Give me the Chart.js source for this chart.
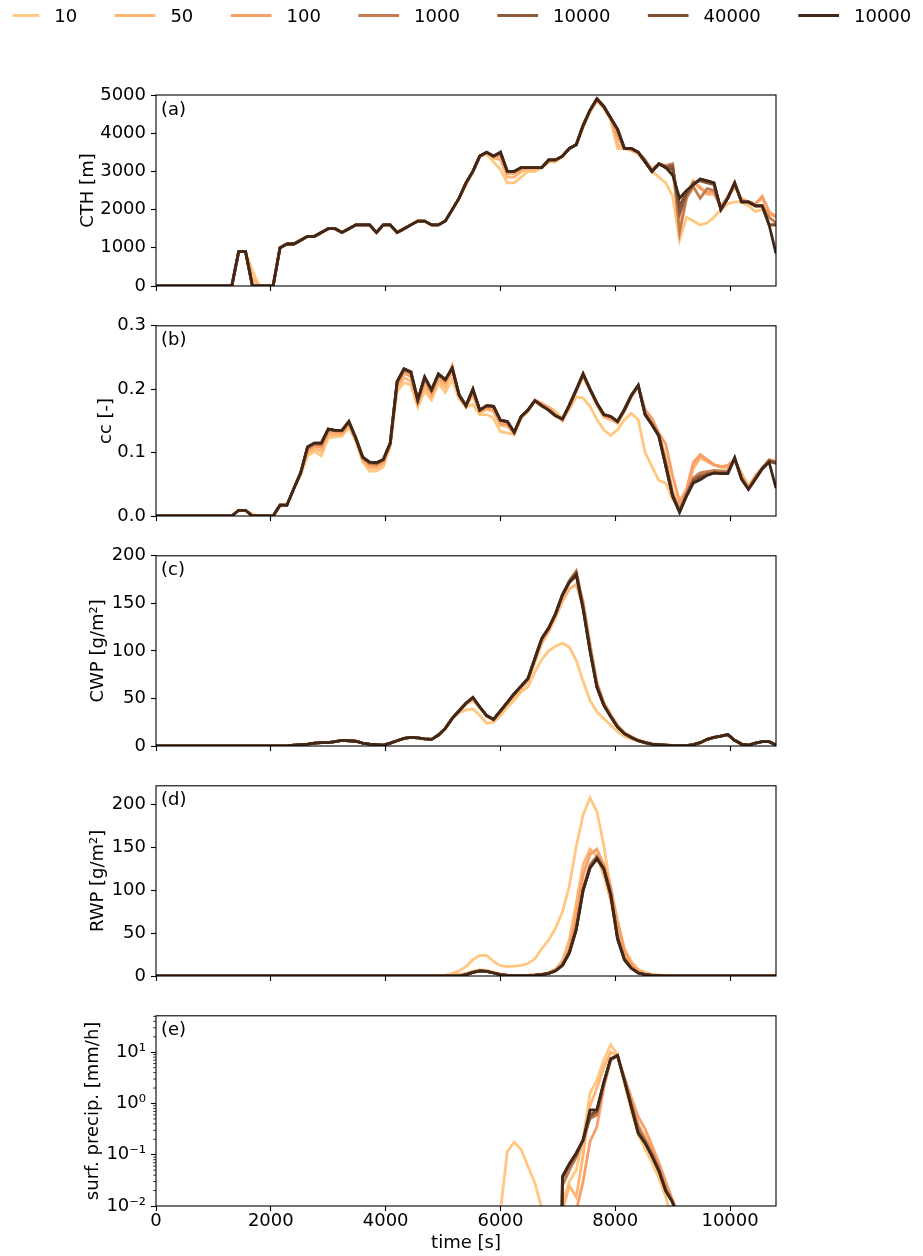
<!DOCTYPE html>
<html>
<head>
<meta charset="utf-8">
<script src="https://cdn.jsdelivr.net/npm/chart.js@4.4.1/dist/chart.umd.min.js"></script>
<style>
  html, body { margin: 0; padding: 0; background: #fff; }
  #fig { position: relative; width: 923px; height: 1256px; overflow: hidden; background: #fff; }
  #fig canvas { position: absolute; left: 0; }
</style>
</head>
<body>
<div id="fig"></div>
<script>
// ---------------- data ----------------
// model output time [s], every 2 minutes
const time = [
  0,120,240,360,480,600,720,840,960,1080,
  1200,1320,1440,1560,1680,1800,1920,2040,2160,2280,
  2400,2520,2640,2760,2880,3000,3120,3240,3360,3480,
  3600,3720,3840,3960,4080,4200,4320,4440,4560,4680,
  4800,4920,5040,5160,5280,5400,5520,5640,5760,5880,
  6000,6120,6240,6360,6480,6600,6720,6840,6960,7080,
  7200,7320,7440,7560,7680,7800,7920,8040,8160,8280,
  8400,8520,8640,8760,8880,9000,9120,9240,9360,9480,
  9600,9720,9840,9960,10080,10200,10320,10440,10560,10680,
  10800];

// run labels (as printed in the legend) and line colours
const runLabels = ['10', '50', '100', '1000', '10000', '40000', '10000'];
const runColors = ['#FFC77F', '#FFB574', '#F99E66', '#C27C50', '#8E5A3A', '#7D4F33', '#3F2819'];

// (a) cloud top height [m]
const cth10 = [
  0,0,0,0,0,0,0,0,0,0,
  0,0,900,900,400,0,0,0,1000,1100,
  1100,1200,1300,1300,1400,1500,1500,1400,1500,1600,
  1600,1600,1400,1600,1600,1400,1500,1600,1700,1700,
  1600,1600,1700,2000,2300,2650,3000,3400,3450,3250,
  3050,2700,2700,2850,3000,3000,3100,3250,3250,3400,
  3600,3700,4150,4550,4850,4650,4350,3600,3600,3550,
  3450,3250,3000,2850,2700,2350,1200,1800,1700,1600,
  1650,1800,2000,2150,2200,2200,2100,1950,2000,1850,
  1850];
const cth50 = [
  0,0,0,0,0,0,0,0,0,0,
  0,0,900,900,200,0,0,0,1000,1100,
  1100,1200,1300,1300,1400,1500,1500,1400,1500,1600,
  1600,1600,1400,1600,1600,1400,1500,1600,1700,1700,
  1600,1600,1700,2000,2300,2650,3000,3400,3500,3350,
  3300,2850,2850,3000,3050,3050,3100,3250,3300,3400,
  3600,3700,4200,4600,4850,4700,4400,3700,3600,3550,
  3500,3250,3050,3200,3100,3000,1700,2300,2700,2600,
  2400,2400,2100,2300,2600,2300,2200,2150,2300,1900,
  1850];
const cth100 = [
  0,0,0,0,0,0,0,0,0,0,
  0,0,900,900,0,0,0,0,1000,1100,
  1100,1200,1300,1300,1400,1500,1500,1400,1500,1600,
  1600,1600,1400,1600,1600,1400,1500,1600,1700,1700,
  1600,1600,1700,2000,2300,2700,3000,3400,3500,3400,
  3400,2950,2950,3050,3100,3100,3100,3300,3300,3400,
  3600,3700,4200,4600,4850,4700,4400,3900,3600,3600,
  3500,3300,3050,3200,3100,3150,1900,2400,2750,2550,
  2450,2450,2050,2350,2650,2250,2200,2150,2350,1950,
  1800];
const cth1000 = [
  0,0,0,0,0,0,0,0,0,0,
  0,0,900,900,0,0,0,0,1000,1100,
  1100,1200,1300,1300,1400,1500,1500,1400,1500,1600,
  1600,1600,1400,1600,1600,1400,1500,1600,1700,1700,
  1600,1600,1700,2000,2300,2700,3000,3400,3500,3400,
  3500,3000,3000,3100,3100,3100,3100,3300,3300,3400,
  3600,3700,4200,4600,4900,4700,4400,4100,3600,3600,
  3500,3300,3000,3200,3150,3200,1400,2300,2600,2300,
  2550,2500,2050,2300,2700,2200,2200,2100,2100,1800,
  1650];
const cth10000 = [
  0,0,0,0,0,0,0,0,0,0,
  0,0,900,900,0,0,0,0,1000,1100,
  1100,1200,1300,1300,1400,1500,1500,1400,1500,1600,
  1600,1600,1400,1600,1600,1400,1500,1600,1700,1700,
  1600,1600,1700,2000,2300,2700,3000,3400,3500,3400,
  3500,3000,3000,3100,3100,3100,3100,3300,3300,3400,
  3600,3700,4200,4600,4900,4700,4400,4100,3600,3600,
  3500,3250,3000,3200,3100,3150,1900,2400,2700,2750,
  2700,2650,2000,2300,2700,2200,2200,2100,2100,1600,
  1600];
const cth40000 = [
  0,0,0,0,0,0,0,0,0,0,
  0,0,900,900,0,0,0,0,1000,1100,
  1100,1200,1300,1300,1400,1500,1500,1400,1500,1600,
  1600,1600,1400,1600,1600,1400,1500,1600,1700,1700,
  1600,1600,1700,2000,2300,2700,3000,3400,3500,3400,
  3500,3000,3000,3100,3100,3100,3100,3300,3300,3400,
  3600,3700,4200,4600,4900,4700,4400,4100,3600,3600,
  3500,3250,3000,3200,3100,3050,2100,2450,2650,2800,
  2750,2700,2000,2300,2700,2200,2200,2100,2100,1600,
  1600];
const cth100000 = [
  0,0,0,0,0,0,0,0,0,0,
  0,0,900,900,0,0,0,0,1000,1100,
  1100,1200,1300,1300,1400,1500,1500,1400,1500,1600,
  1600,1600,1400,1600,1600,1400,1500,1600,1700,1700,
  1600,1600,1700,2000,2300,2700,3000,3400,3500,3400,
  3500,3000,3000,3100,3100,3100,3100,3300,3300,3400,
  3600,3700,4200,4600,4900,4700,4400,4100,3600,3600,
  3500,3250,3000,3200,3100,2900,2300,2500,2650,2800,
  2750,2700,2000,2300,2700,2200,2200,2100,2100,1600,
  850];

// (b) cloud cover [-]
const cc10 = [
  0,0,0,0,0,0,0,0,0,0,
  0,0,0.009,0.009,0.003,0,0,0,0.017,0.017,
  0.043,0.065,0.095,0.102,0.095,0.123,0.125,0.126,0.140,0.118,
  0.086,0.071,0.071,0.078,0.110,0.197,0.210,0.207,0.172,0.197,
  0.183,0.210,0.195,0.215,0.185,0.172,0.176,0.160,0.160,0.154,
  0.133,0.131,0.128,0.154,0.165,0.181,0.172,0.172,0.165,0.154,
  0.168,0.188,0.186,0.173,0.152,0.136,0.127,0.136,0.152,0.162,
  0.152,0.100,0.078,0.056,0.052,0.026,0.013,0.031,0.078,0.095,
  0.089,0.081,0.078,0.078,0.089,0.068,0.047,0.063,0.074,0.089,
  0.086];
const cc50 = [
  0,0,0,0,0,0,0,0,0,0,
  0,0,0.009,0.009,0,0,0,0,0.017,0.017,
  0.043,0.066,0.100,0.106,0.102,0.128,0.128,0.129,0.143,0.120,
  0.088,0.076,0.076,0.082,0.112,0.202,0.218,0.213,0.176,0.205,
  0.188,0.215,0.203,0.228,0.188,0.174,0.190,0.163,0.168,0.165,
  0.143,0.141,0.130,0.155,0.167,0.182,0.176,0.170,0.160,0.152,
  0.172,0.196,0.220,0.198,0.175,0.156,0.152,0.146,0.165,0.188,
  0.204,0.165,0.150,0.130,0.090,0.040,0.012,0.040,0.075,0.092,
  0.086,0.080,0.077,0.075,0.088,0.066,0.046,0.062,0.075,0.088,
  0.085];
const cc100 = [
  0,0,0,0,0,0,0,0,0,0,
  0,0,0.009,0.009,0,0,0,0,0.017,0.017,
  0.043,0.067,0.104,0.110,0.108,0.132,0.132,0.132,0.146,0.122,
  0.090,0.080,0.079,0.085,0.113,0.207,0.225,0.220,0.178,0.212,
  0.193,0.220,0.210,0.237,0.190,0.172,0.195,0.165,0.171,0.168,
  0.146,0.145,0.131,0.156,0.168,0.183,0.178,0.171,0.160,0.150,
  0.172,0.198,0.222,0.199,0.176,0.158,0.154,0.148,0.166,0.189,
  0.205,0.168,0.154,0.131,0.113,0.063,0.023,0.042,0.084,0.097,
  0.089,0.081,0.078,0.080,0.089,0.063,0.044,0.063,0.076,0.089,
  0.086];
const cc1000 = [
  0,0,0,0,0,0,0,0,0,0,
  0,0,0.009,0.009,0,0,0,0,0.017,0.017,
  0.043,0.068,0.107,0.113,0.112,0.136,0.135,0.134,0.148,0.123,
  0.092,0.083,0.082,0.088,0.114,0.210,0.230,0.225,0.182,0.217,
  0.197,0.222,0.214,0.234,0.191,0.174,0.200,0.167,0.174,0.173,
  0.151,0.149,0.132,0.157,0.167,0.182,0.174,0.167,0.158,0.153,
  0.175,0.199,0.224,0.200,0.178,0.160,0.157,0.149,0.168,0.190,
  0.206,0.162,0.146,0.128,0.085,0.035,0.010,0.035,0.060,0.068,
  0.070,0.072,0.071,0.070,0.090,0.060,0.043,0.060,0.076,0.088,
  0.085];
const cc10000 = [
  0,0,0,0,0,0,0,0,0,0,
  0,0,0.009,0.009,0,0,0,0,0.017,0.017,
  0.043,0.068,0.109,0.115,0.115,0.137,0.135,0.135,0.149,0.123,
  0.093,0.085,0.084,0.089,0.115,0.212,0.232,0.227,0.183,0.219,
  0.199,0.224,0.215,0.233,0.191,0.174,0.200,0.167,0.174,0.173,
  0.151,0.149,0.132,0.157,0.167,0.182,0.174,0.167,0.158,0.153,
  0.175,0.199,0.224,0.200,0.178,0.160,0.157,0.149,0.168,0.190,
  0.206,0.160,0.144,0.126,0.080,0.032,0.007,0.033,0.056,0.063,
  0.066,0.068,0.068,0.068,0.091,0.059,0.043,0.059,0.075,0.087,
  0.084];
const cc40000 = [
  0,0,0,0,0,0,0,0,0,0,
  0,0,0.009,0.009,0,0,0,0,0.017,0.017,
  0.043,0.068,0.109,0.115,0.115,0.137,0.135,0.135,0.149,0.123,
  0.093,0.085,0.084,0.089,0.115,0.212,0.232,0.227,0.183,0.219,
  0.199,0.224,0.215,0.233,0.191,0.174,0.200,0.167,0.174,0.173,
  0.151,0.149,0.132,0.157,0.167,0.182,0.174,0.167,0.158,0.153,
  0.175,0.199,0.224,0.200,0.178,0.160,0.157,0.149,0.168,0.190,
  0.206,0.160,0.144,0.126,0.079,0.031,0.006,0.032,0.054,0.060,
  0.065,0.068,0.067,0.067,0.091,0.058,0.042,0.058,0.075,0.086,
  0.083];
const cc100000 = [
  0,0,0,0,0,0,0,0,0,0,
  0,0,0.009,0.009,0,0,0,0,0.017,0.017,
  0.043,0.068,0.109,0.115,0.115,0.137,0.135,0.135,0.149,0.123,
  0.093,0.085,0.084,0.089,0.115,0.212,0.232,0.227,0.183,0.219,
  0.199,0.224,0.215,0.233,0.191,0.174,0.200,0.167,0.174,0.173,
  0.151,0.149,0.132,0.157,0.167,0.182,0.174,0.167,0.158,0.153,
  0.175,0.199,0.224,0.200,0.178,0.160,0.157,0.149,0.168,0.190,
  0.206,0.160,0.144,0.126,0.078,0.031,0.006,0.031,0.052,0.057,
  0.064,0.068,0.067,0.067,0.092,0.058,0.042,0.058,0.074,0.085,
  0.044];

// (c) cloud water path [g/m2]
const cwp10 = [
  0,0,0,0,0,0,0,0,0,0,
  0,0,0,0,0,0,0,0,0,0.2,
  1,1.5,2,3,3.5,3.5,4.5,6,5.5,5,
  3,2,1.5,1,3,5.5,8,9,8.5,7.5,
  7,11.5,18.5,29,35,38,39,32,24,25,
  32,41,48,57,62,78,91,100,105,108,
  104,90,68,48,36,29,22,15,10,7.5,
  5,3,1.5,1,0.7,0.4,0.3,0.5,1.5,3.5,
  7,9,10.5,12,6,2,1,3,4.5,4.5,
  1];
const cwp50 = [
  0,0,0,0,0,0,0,0,0,0,
  0,0,0,0,0,0,0,0,0,0.2,
  1,1.5,2,3,3.5,3.5,4.5,6,5.5,5,
  3,2,1.5,1,3,5.5,8,9,8.5,7.5,
  7,11.5,18.5,29,36,44,48,40,31,27,
  35,44,52,60,68,88,108,120,135,152,
  165,170,145,102,64,45,32,21,14,9.5,
  6,3.8,2.2,1.6,1,0.5,0.3,0.5,1.5,3.5,
  7,9,10.5,12,6,2,1,3,4.5,4.5,
  1];
const cwp100 = [
  0,0,0,0,0,0,0,0,0,0,
  0,0,0,0,0,0,0,0,0,0.2,
  1,1.5,2,3,3.5,3.5,4.5,6,5.5,5,
  3,2,1.5,1,3,5.5,8,9,8.5,7.5,
  7,11.5,18.5,29,37,45,50,41,32,28,
  36,45,54,62,70,90,111,123,138,157,
  172,178,152,108,67,46,33,22,14,10,
  6,4,2.3,1.7,1.1,0.6,0.3,0.5,1.5,3.5,
  7,9,10.5,12,6,2,1,3,4.5,4.5,
  1];
const cwp1000 = [
  0,0,0,0,0,0,0,0,0,0,
  0,0,0,0,0,0,0,0,0,0.2,
  1,1.5,2,3,3.5,3.5,4.5,6,5.5,5,
  3,2,1.5,1,3,5.5,8,9,8.5,7.5,
  7,11.5,18.5,29,37,45,51,41,32,28,
  37,46,55,63,71,92,113,124,139,159,
  174,184,148,103,64,44,31,20,13,9,
  5.6,3.5,2,1.5,1,0.5,0.3,0.5,1.5,3.5,
  7,9,10.5,12,6,2,1,3,4.5,4.5,
  1];
const cwp10000 = [
  0,0,0,0,0,0,0,0,0,0,
  0,0,0,0,0,0,0,0,0,0.2,
  1,1.5,2,3,3.5,3.5,4.5,6,5.5,5,
  3,2,1.5,1,3,5.5,8,9,8.5,7.5,
  7,11.5,18.5,29,37,45,51,41,32,28,
  37,46,55,63,71,92,113,124,139,159,
  173,182,146,101,63,43,31,20,13,9,
  5.6,3.5,2,1.5,1,0.5,0.3,0.5,1.5,3.5,
  7,9,10.5,12,6,2,1,3,4.5,4.5,
  1];
const cwp40000 = [
  0,0,0,0,0,0,0,0,0,0,
  0,0,0,0,0,0,0,0,0,0.2,
  1,1.5,2,3,3.5,3.5,4.5,6,5.5,5,
  3,2,1.5,1,3,5.5,8,9,8.5,7.5,
  7,11.5,18.5,29,37,45,51,41,32,28,
  37,46,55,63,71,92,113,124,139,159,
  172,181,145,101,62,43,31,20,13,9,
  5.6,3.5,2,1.5,1,0.5,0.3,0.5,1.5,3.5,
  7,9,10.5,12,6,2,1,3,4.5,4.5,
  1];
const cwp100000 = [
  0,0,0,0,0,0,0,0,0,0,
  0,0,0,0,0,0,0,0,0,0.2,
  1,1.5,2,3,3.5,3.5,4.5,6,5.5,5,
  3,2,1.5,1,3,5.5,8,9,8.5,7.5,
  7,11.5,18.5,29,37,45,51,41,32,28,
  37,46,55,63,71,92,113,124,139,159,
  172,180,144,100,62,43,31,20,13,9,
  5.6,3.5,2,1.5,1,0.5,0.3,0.5,1.5,3.5,
  7,9,10.5,12,6,2,1,3,4.5,4.5,
  1];

// (d) rain water path [g/m2]
const rwp10 = [
  0,0,0,0,0,0,0,0,0,0,
  0,0,0,0,0,0,0,0,0,0,
  0,0,0,0,0,0,0,0,0,0,
  0,0,0,0,0,0,0,0,0,0,
  0,0.3,1,3,6,11,19,24,24,17,
  12,11,11.5,12.5,14.5,20,32,42,56,75,
  105,151,188,208,192,153,101,65,32,17,
  8,4,2,1.2,0.6,0.3,0,0,0,0,
  0,0,0,0,0,0,0,0,0,0,
  0];
const rwp50 = [
  0,0,0,0,0,0,0,0,0,0,
  0,0,0,0,0,0,0,0,0,0,
  0,0,0,0,0,0,0,0,0,0,
  0,0,0,0,0,0,0,0,0,0,
  0,0,0.3,1,2,3,5.5,7,6.5,4.5,
  2.5,1.2,0.8,0.8,1,1.6,2.5,4,8,18,
  42,85,130,148,140,118,88,48,22,10,
  4.5,2,1,0.5,0.2,0,0,0,0,0,
  0,0,0,0,0,0,0,0,0,0,
  0];
const rwp100 = [
  0,0,0,0,0,0,0,0,0,0,
  0,0,0,0,0,0,0,0,0,0,
  0,0,0,0,0,0,0,0,0,0,
  0,0,0,0,0,0,0,0,0,0,
  0,0,0,0,0,1.5,4,6,5.5,3.5,
  1.6,0.8,0.5,0.5,0.7,1.2,2,3.5,7,14,
  32,70,118,142,148,130,105,62,30,14,
  6,3,1.5,0.7,0.3,0.1,0,0,0,0,
  0,0,0,0,0,0,0,0,0,0,
  0];
const rwp1000 = [
  0,0,0,0,0,0,0,0,0,0,
  0,0,0,0,0,0,0,0,0,0,
  0,0,0,0,0,0,0,0,0,0,
  0,0,0,0,0,0,0,0,0,0,
  0,0,0,0,0,1.6,4.3,6,5.5,3.5,
  1.5,0.6,0.4,0.4,0.6,1,1.6,3,6,13,
  29,57,102,130,140,127,98,47,21,10,
  4,1.8,0.7,0.3,0,0,0,0,0,0,
  0,0,0,0,0,0,0,0,0,0,
  0];
const rwp10000 = [
  0,0,0,0,0,0,0,0,0,0,
  0,0,0,0,0,0,0,0,0,0,
  0,0,0,0,0,0,0,0,0,0,
  0,0,0,0,0,0,0,0,0,0,
  0,0,0,0,0,1.6,4.3,6,5.5,3.5,
  1.5,0.6,0.4,0.4,0.6,1,1.6,3,6,12.5,
  27,54,100,127,138,125,95,44,19,9,
  3.5,1.6,0.6,0.3,0,0,0,0,0,0,
  0,0,0,0,0,0,0,0,0,0,
  0];
const rwp40000 = [
  0,0,0,0,0,0,0,0,0,0,
  0,0,0,0,0,0,0,0,0,0,
  0,0,0,0,0,0,0,0,0,0,
  0,0,0,0,0,0,0,0,0,0,
  0,0,0,0,0,1.6,4.3,6,5.5,3.5,
  1.5,0.6,0.4,0.4,0.6,1,1.6,3,6,12.5,
  27,54,100,126,137,125,96,44,19,9,
  3.5,1.6,0.6,0.3,0,0,0,0,0,0,
  0,0,0,0,0,0,0,0,0,0,
  0];
const rwp100000 = [
  0,0,0,0,0,0,0,0,0,0,
  0,0,0,0,0,0,0,0,0,0,
  0,0,0,0,0,0,0,0,0,0,
  0,0,0,0,0,0,0,0,0,0,
  0,0,0,0,0,1.6,4.3,6,5.5,3.5,
  1.5,0.6,0.4,0.4,0.6,1,1.6,3,6,12.5,
  27,54,100,126,137,125,95,43,19,9,
  3.5,1.6,0.6,0.3,0,0,0,0,0,0,
  0,0,0,0,0,0,0,0,0,0,
  0];

// (e) surface precipitation [mm/h]
const pr10 = [
  0,0,0,0,0,0,0,0,0,0,
  0,0,0,0,0,0,0,0,0,0,
  0,0,0,0,0,0,0,0,0,0,
  0,0,0,0,0,0,0,0,0,0,
  0,0,0,0,0,0,0,0,0,0,
  0.008,0.116,0.176,0.126,0.059,0.028,0.009,0,0,0.012,
  0.03,0.05,0.2,1.6,2.8,7,14,9,2.5,0.7,
  0.25,0.13,0.07,0.035,0.015,0.005,0,0,0,0,
  0,0,0,0,0,0,0,0,0,0,
  0];
const pr50 = [
  0,0,0,0,0,0,0,0,0,0,
  0,0,0,0,0,0,0,0,0,0,
  0,0,0,0,0,0,0,0,0,0,
  0,0,0,0,0,0,0,0,0,0,
  0,0,0,0,0,0,0,0,0,0,
  0,0,0,0,0,0,0,0,0,0.008,
  0.025,0.015,0.1,0.9,2,5,10,8.5,2.8,1,
  0.4,0.22,0.12,0.06,0.025,0.012,0.005,0,0,0,
  0,0,0,0,0,0,0,0,0,0,
  0];
const pr100 = [
  0,0,0,0,0,0,0,0,0,0,
  0,0,0,0,0,0,0,0,0,0,
  0,0,0,0,0,0,0,0,0,0,
  0,0,0,0,0,0,0,0,0,0,
  0,0,0,0,0,0,0,0,0,0,
  0,0,0,0,0,0,0,0,0,0,
  0,0.008,0.03,0.18,0.35,2,7,8.5,3.2,1.3,
  0.55,0.32,0.15,0.07,0.03,0.013,0.006,0,0,0,
  0,0,0,0,0,0,0,0,0,0,
  0];
const pr1000 = [
  0,0,0,0,0,0,0,0,0,0,
  0,0,0,0,0,0,0,0,0,0,
  0,0,0,0,0,0,0,0,0,0,
  0,0,0,0,0,0,0,0,0,0,
  0,0,0,0,0,0,0,0,0,0,
  0,0,0,0,0,0,0,0,0,0.025,
  0.05,0.09,0.2,0.5,0.6,2.4,7.5,8.5,3,1,
  0.35,0.2,0.11,0.055,0.022,0.012,0.005,0,0,0,
  0,0,0,0,0,0,0,0,0,0,
  0];
const pr10000 = [
  0,0,0,0,0,0,0,0,0,0,
  0,0,0,0,0,0,0,0,0,0,
  0,0,0,0,0,0,0,0,0,0,
  0,0,0,0,0,0,0,0,0,0,
  0,0,0,0,0,0,0,0,0,0,
  0,0,0,0,0,0,0,0,0,0.035,
  0.062,0.1,0.19,0.55,0.7,2.5,7.3,8.5,2.8,0.9,
  0.28,0.175,0.097,0.05,0.02,0.012,0.004,0,0,0,
  0,0,0,0,0,0,0,0,0,0,
  0];
const pr40000 = [
  0,0,0,0,0,0,0,0,0,0,
  0,0,0,0,0,0,0,0,0,0,
  0,0,0,0,0,0,0,0,0,0,
  0,0,0,0,0,0,0,0,0,0,
  0,0,0,0,0,0,0,0,0,0,
  0,0,0,0,0,0,0,0,0,0.036,
  0.065,0.105,0.19,0.6,0.72,2.55,7.3,8.6,2.8,0.88,
  0.27,0.17,0.095,0.049,0.02,0.012,0.004,0,0,0,
  0,0,0,0,0,0,0,0,0,0,
  0];
const pr100000 = [
  0,0,0,0,0,0,0,0,0,0,
  0,0,0,0,0,0,0,0,0,0,
  0,0,0,0,0,0,0,0,0,0,
  0,0,0,0,0,0,0,0,0,0,
  0,0,0,0,0,0,0,0,0,0,
  0,0,0,0,0,0,0,0,0,0.038,
  0.067,0.108,0.195,0.74,0.76,2.6,7.4,8.6,2.8,0.86,
  0.26,0.168,0.093,0.048,0.0195,0.0117,0.004,0,0,0,
  0,0,0,0,0,0,0,0,0,0,
  0];

// axis ticks
const timeTicks = [0, 2000, 4000, 6000, 8000, 10000];
const cthTicks = [0, 1000, 2000, 3000, 4000, 5000];
const ccTicks = [0, 0.1, 0.2, 0.3];
const ccTickLabels = ['0.0', '0.1', '0.2', '0.3'];
const cwpTicks = [0, 50, 100, 150, 200];
const rwpTicks = [0, 50, 100, 150, 200];
const prTicks = [0.01, 0.1, 1, 10];
const prTickLabels = ['10\u207B\u00B2', '10\u207B\u00B9', '10\u2070', '10\u00B9'];

// ---------------- layout / style ----------------
const FONT = "'DejaVu Sans', 'Liberation Sans', sans-serif";
const FS = 18;
const W = 923;
const PLOT_LEFT = 156;
const PLOT_RIGHT = 776;
const PLOT_H = 191;
const LINE_W = 2.8;
const LOG_FLOOR = 1e-12;   // non-positive rates sit far below the log axis

Chart.defaults.font.family = FONT;
Chart.defaults.font.size = FS;
Chart.defaults.color = '#000';

const panels = [
  { letter: '(a)', title: 'CTH [m]', series: [cth10, cth50, cth100, cth1000, cth10000, cth40000, cth100000],
    min: 0, max: 5000, ticks: cthTicks, labels: null, titleX: 88 },
  { letter: '(b)', title: 'cc [-]', series: [cc10, cc50, cc100, cc1000, cc10000, cc40000, cc100000],
    min: 0, max: 0.3, ticks: ccTicks, labels: ccTickLabels, titleX: 106 },
  { letter: '(c)', title: 'CWP [g/m\u00B2]', series: [cwp10, cwp50, cwp100, cwp1000, cwp10000, cwp40000, cwp100000],
    min: 0, max: 200, ticks: cwpTicks, labels: null, titleX: 98 },
  { letter: '(d)', title: 'RWP [g/m\u00B2]', series: [rwp10, rwp50, rwp100, rwp1000, rwp10000, rwp40000, rwp100000],
    min: 0, max: 222, ticks: rwpTicks, labels: null, titleX: 98 },
  { letter: '(e)', title: 'surf. precip. [mm/h]', series: [pr10, pr50, pr100, pr1000, pr10000, pr40000, pr100000],
    min: 0.01, max: 51.3, ticks: prTicks, labels: prTickLabels, titleX: 93, log: true }
];

// frame, panel letter and (for log axes) minor ticks
const panelDecor = {
  id: 'panelDecor',
  afterDatasetsDraw(chart, args, opts) {
    const { ctx, chartArea: a } = chart;
    ctx.save();
    ctx.strokeStyle = '#000';
    ctx.lineWidth = 1.1;
    ctx.strokeRect(a.left, a.top, a.right - a.left, a.bottom - a.top);
    if (opts.minor) {
      const ys = chart.scales.y;
      ctx.lineWidth = 0.8;
      ctx.beginPath();
      for (let k = -3; k <= 2; k++) {
        for (let m = 2; m <= 9; m++) {
          const v = m * Math.pow(10, k);
          if (v <= ys.min || v >= ys.max) continue;
          const py = ys.getPixelForValue(v);
          ctx.moveTo(a.left - 2.8, py);
          ctx.lineTo(a.left, py);
        }
      }
      ctx.stroke();
    }
    ctx.fillStyle = '#000';
    ctx.font = `${FS}px ${FONT}`;
    ctx.textAlign = 'left';
    ctx.textBaseline = 'alphabetic';
    ctx.fillText(opts.letter, a.left + 5, a.top + 19.5);
    ctx.restore();
  }
};

// one-row legend along the top edge of the figure; the row is wider
// than the page, so its first handle starts at the page edge
const LEG_Y = 15.5;
const LEG_HANDLE = 40.7;
const LEG_TEXT_GAP = 15;
const LEG_ITEM_GAP = 37.5;
const topLegend = {
  id: 'topLegend',
  afterDraw(chart, args, opts) {
    if (!opts.show) return;
    const ctx = chart.ctx;
    ctx.save();
    ctx.font = `${FS}px ${FONT}`;
    ctx.textBaseline = 'alphabetic';
    ctx.textAlign = 'left';
    let x = 39.3 - LEG_HANDLE;
    chart.data.datasets.forEach(ds => {
      ctx.strokeStyle = ds.borderColor;
      ctx.lineWidth = 2.8;
      ctx.beginPath();
      ctx.moveTo(Math.max(x, 12.7), LEG_Y);
      ctx.lineTo(x + LEG_HANDLE, LEG_Y);
      ctx.stroke();
      const tx = x + LEG_HANDLE + LEG_TEXT_GAP;
      ctx.fillStyle = '#000';
      ctx.fillText(ds.label, tx, LEG_Y + 6.6);
      x = tx + ctx.measureText(ds.label).width + LEG_ITEM_GAP;
    });
    ctx.restore();
  }
};

const fig = document.getElementById('fig');

panels.forEach((p, k) => {
  const plotTop = 95 + 230 * k;
  const isFirst = k === 0;
  const isLast = k === panels.length - 1;
  const canvasTop = isFirst ? 0 : plotTop - 15;
  const padTop = plotTop - canvasTop;
  const xAxisH = isLast ? 50 : 24;
  const canvasH = padTop + PLOT_H + xAxisH;

  const canvas = document.createElement('canvas');
  canvas.width = W;
  canvas.height = canvasH;
  canvas.style.top = canvasTop + 'px';
  canvas.style.width = W + 'px';
  canvas.style.height = canvasH + 'px';
  fig.appendChild(canvas);

  const datasets = p.series.map((vals, j) => ({
    label: runLabels[j],
    data: vals.map((v, i) => ({ x: time[i], y: p.log ? (v > 0 ? v : LOG_FLOOR) : v })),
    borderColor: runColors[j],
    backgroundColor: runColors[j],
    borderWidth: LINE_W,
    pointRadius: 0,
    tension: 0,
    fill: false,
    clip: 0,
    order: p.series.length - j
  }));

  new Chart(canvas, {
    type: 'line',
    data: { datasets },
    options: {
      responsive: false,
      animation: false,
      devicePixelRatio: 1,
      layout: { padding: { left: 0, right: W - PLOT_RIGHT, top: padTop, bottom: 0 } },
      plugins: {
        legend: { display: false },
        tooltip: { enabled: false },
        panelDecor: { letter: p.letter, minor: !!p.log },
        topLegend: { show: isFirst }
      },
      scales: {
        x: {
          type: 'linear',
          min: 0,
          max: 10800,
          afterBuildTicks: s => { s.ticks = timeTicks.map(v => ({ value: v })); },
          afterFit: s => { s.height = xAxisH; },
          grid: { display: true, drawOnChartArea: false, drawTicks: true, tickLength: 5, tickColor: '#000', tickWidth: 1.1 },
          border: { display: false },
          ticks: {
            display: isLast,
            padding: 0,
            maxRotation: 0,
            autoSkip: false,
            font: { size: FS, lineHeight: 1.2 },
            color: '#000',
            callback: v => String(v)
          },
          title: {
            display: isLast,
            text: 'time [s]',
            font: { size: FS, lineHeight: 1.2 },
            color: '#000',
            padding: { top: 0, bottom: 2 }
          }
        },
        y: {
          type: p.log ? 'logarithmic' : 'linear',
          min: p.min,
          max: p.max,
          afterBuildTicks: s => { s.ticks = p.ticks.map(v => ({ value: v })); },
          afterFit: s => { s.width = PLOT_LEFT; },
          grid: { display: true, drawOnChartArea: false, drawTicks: true, tickLength: 5, tickColor: '#000', tickWidth: 1.1 },
          border: { display: false },
          ticks: {
            padding: 5,
            autoSkip: false,
            font: { size: FS, lineHeight: 1.2 },
            color: '#000',
            callback: (v, i) => (p.labels ? p.labels[i] : String(v))
          },
          title: {
            display: true,
            text: p.title,
            font: { size: FS, lineHeight: 1.2 },
            color: '#000',
            padding: { top: p.titleX - 10.8, bottom: 0 }
          }
        }
      }
    },
    plugins: [panelDecor, topLegend]
  });
});
</script>
</body>
</html>
